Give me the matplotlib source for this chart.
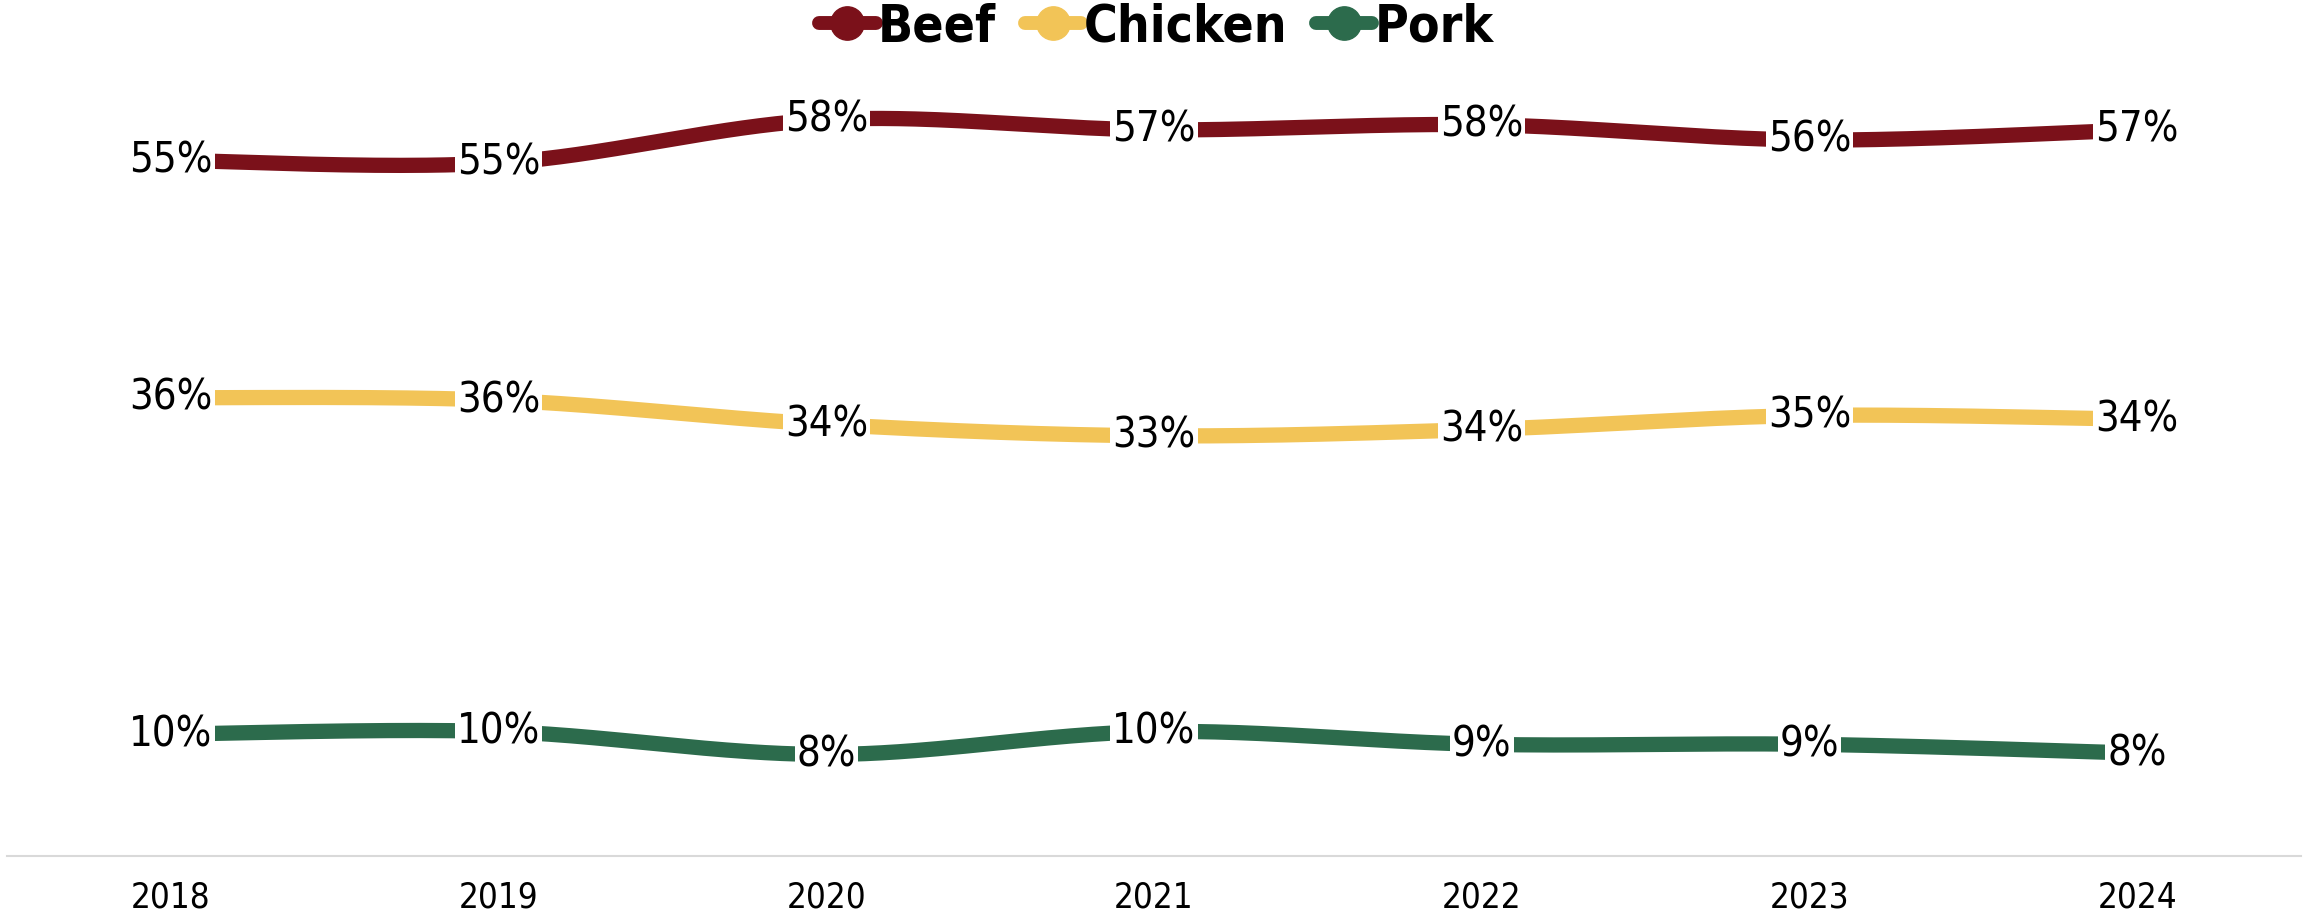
import numpy as np
import matplotlib.pyplot as plt
from matplotlib.lines import Line2D

plt.rcParams['font.family'] = ['DejaVu Sans']
plt.rcParams['font.stretch'] = 'condensed'

years = [2018, 2019, 2020, 2021, 2022, 2023, 2024]
beef = [54.8, 54.6, 58.0, 57.2, 57.6, 56.4, 57.2]
chicken = [36.1, 35.9, 34.0, 33.1, 33.6, 34.7, 34.4]
pork = [9.6, 9.8, 8.0, 9.8, 8.8, 8.8, 8.1]

series = [("Beef", beef, "#7B111A"),
          ("Chicken", chicken, "#F2C457"),
          ("Pork", pork, "#2C6B4C")]


def smooth(x, y, n=60):
    # cubic bezier through the points, controls from neighbouring slopes
    x = np.asarray(x, float)
    y = np.asarray(y, float)
    xs, ys = [], []
    for i in range(len(x) - 1):
        p0 = (x[max(i - 1, 0)], y[max(i - 1, 0)])
        p1 = (x[i], y[i])
        p2 = (x[i + 1], y[i + 1])
        p3 = (x[min(i + 2, len(x) - 1)], y[min(i + 2, len(x) - 1)])
        c1 = (p1[0] + (p2[0] - p0[0]) / 6, p1[1] + (p2[1] - p0[1]) / 6)
        c2 = (p2[0] - (p3[0] - p1[0]) / 6, p2[1] - (p3[1] - p1[1]) / 6)
        t = np.linspace(0, 1, n)
        b0 = (1 - t) ** 3
        b1 = 3 * (1 - t) ** 2 * t
        b2 = 3 * (1 - t) * t ** 2
        b3 = t ** 3
        xs.append(b0 * p1[0] + b1 * c1[0] + b2 * c2[0] + b3 * p2[0])
        ys.append(b0 * p1[1] + b1 * c1[1] + b2 * c2[1] + b3 * p2[1])
    return np.concatenate(xs), np.concatenate(ys)


fig = plt.figure(figsize=(23.13, 9.16), dpi=100)
ax = fig.add_axes([7 / 2313, 60 / 916, 2294 / 2313, 796 / 916])

for name, vals, col in series:
    sx, sy = smooth(years, vals)
    ax.plot(sx, sy, color=col, lw=11, solid_capstyle='butt', zorder=2)
    for yr, v in zip(years, vals):
        ax.text(yr, v, f"{v:.0f}%", ha='center', va='center', fontsize=30,
                zorder=3, bbox=dict(fc='white', ec='none', pad=1.5))

ax.set_xlim(2017.5, 2024.5)
ax.set_ylim(0, 62.7)
ax.set_xticks(years)
ax.set_xticklabels([str(y) for y in years], fontsize=25)
ax.tick_params(axis='x', length=0, pad=18)
ax.set_yticks([])
for s in ['top', 'left', 'right']:
    ax.spines[s].set_visible(False)
ax.spines['bottom'].set_color('#D9D9D9')
ax.spines['bottom'].set_linewidth(1.5)

handles = [Line2D([], [], color=c, lw=10, marker='o', markersize=24, solid_capstyle='round')
           for _, _, c in series]
fig.legend(handles, [s[0] for s in series], loc='center', bbox_to_anchor=(0.5, 1 - 27 / 916),
           ncol=3, frameon=False, handlelength=1.1, handletextpad=0.05, columnspacing=0.55,
           prop={'weight': 'bold', 'size': 37})

fig.savefig("out.png", dpi=100, facecolor='white')
